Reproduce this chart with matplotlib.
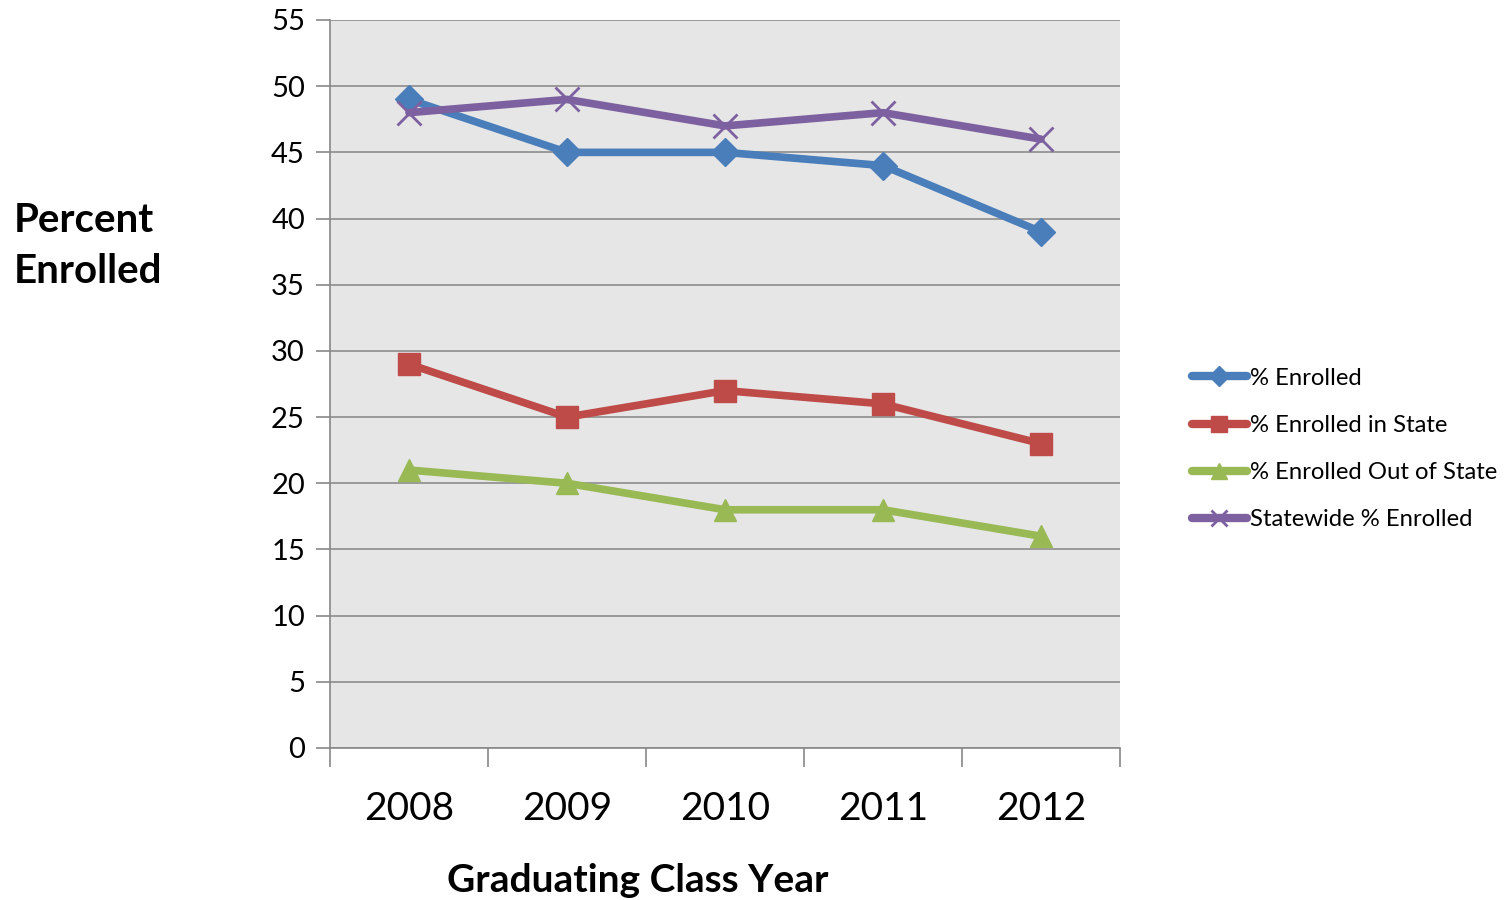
import numpy as np
import matplotlib.pyplot as plt
from matplotlib.lines import Line2D

plt.rcParams['font.family'] = ['Lato', 'DejaVu Sans']

years = ['2008', '2009', '2010', '2011', '2012']
enrolled = [49, 45, 45, 44, 39]
enrolled_in_state = [29, 25, 27, 26, 23]
enrolled_out_state = [21, 20, 18, 18, 16]
statewide = [48, 49, 47, 48, 46]

series = [
    ('% Enrolled', enrolled, '#4A7EBB', 'D', 14),
    ('% Enrolled in State', enrolled_in_state, '#BE4B48', 's', 16),
    ('% Enrolled Out of State', enrolled_out_state, '#98B954', '^', 16),
    ('Statewide % Enrolled', statewide, '#7D60A0', 'x', 17),
]

fig = plt.figure(figsize=(15.11, 9), dpi=100)
ax = fig.add_axes([330 / 1511, 1 - 748 / 900, 790 / 1511, 728 / 900])
ax.set_facecolor('#E6E6E6')

x = np.arange(len(years)) + 0.5
handles = []
for label, vals, c, m, ms in series:
    mew = 2 if m == 'x' else 1
    ax.plot(x, vals, color=c, lw=5.5, marker=m, markersize=ms,
            markeredgewidth=mew, markeredgecolor=c, markerfacecolor=c,
            solid_joinstyle='round', solid_capstyle='round', zorder=3)
    handles.append(Line2D([], [], color=c, lw=6, marker=m,
                          markersize=ms * 0.7, markeredgewidth=mew,
                          markeredgecolor=c, markerfacecolor=c,
                          solid_capstyle='round'))

ax.set_xlim(0, 5)
ax.set_ylim(0, 55)
ax.set_yticks(range(0, 56, 5))
ax.set_xticks(range(0, 6))
ax.set_xticklabels([])
ax.set_xticks(x, minor=True)
ax.set_xticklabels(years, minor=True, fontsize=28)
ax.tick_params(axis='x', which='minor', length=0, pad=31)
ax.tick_params(axis='x', which='major', length=14, color='#888888', width=1.2)
ax.tick_params(axis='y', length=10, color='#888888', width=1.2,
               labelsize=21, pad=8)
ax.grid(axis='y', color='#8C8C8C', lw=1.2, zorder=0)
ax.set_axisbelow(True)
for s in ['top', 'right']:
    ax.spines[s].set_visible(False)
for s in ['left', 'bottom']:
    ax.spines[s].set_color('#888888')
    ax.spines[s].set_linewidth(1.2)

fig.text(14 / 1511, 1 - 246 / 900, 'Percent\nEnrolled', fontsize=29,
         fontweight='bold', ha='left', va='center', linespacing=1.45)
fig.text(638 / 1511, 1 - 880 / 900, 'Graduating Class Year', fontsize=28,
         fontweight='bold', ha='center', va='center')

fig.legend(handles=handles, labels=[s[0] for s in series],
           loc='center left', bbox_to_anchor=(1180 / 1511, 1 - 449 / 900),
           frameon=False, fontsize=17.2, handlelength=2.3, handletextpad=0.12,
           labelspacing=1.1, borderpad=0)

fig.savefig('out.png', dpi=100)
